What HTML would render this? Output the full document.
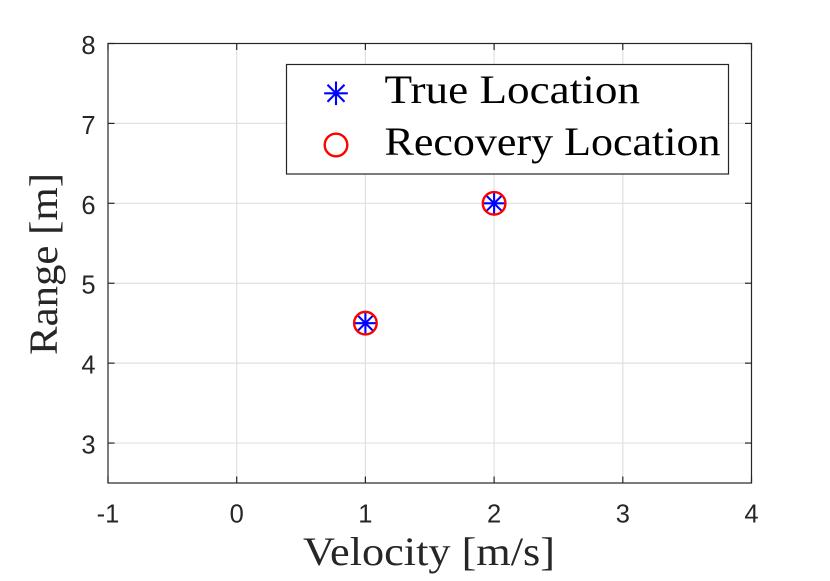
<!DOCTYPE html>
<html>
<head>
<meta charset="utf-8">
<style>
html,body{margin:0;padding:0;background:#fff;width:830px;height:581px;overflow:hidden}
svg{display:block}
.tick{font-family:"Liberation Sans",sans-serif;font-size:25.5px;fill:#262626}
.serif{font-family:"Liberation Serif",serif;font-size:40px}
</style>
</head>
<body>
<svg id="chart" width="830" height="581" viewBox="0 0 830 581" xmlns="http://www.w3.org/2000/svg"></svg>
<script>
const xTicks = [-1, 0, 1, 2, 3, 4];
const yTicks = [3, 4, 5, 6, 7, 8];
const velocityTrue = [1, 2];
const rangeTrue = [4.5, 6];
const velocityRecovered = [1, 2];
const rangeRecovered = [4.5, 6];
const xDomain = [-1, 4];
const yDomain = [2.5, 8];

const svg = document.getElementById('chart');
const NS = 'http://www.w3.org/2000/svg';
const plotLeft = 108, plotRight = 751.5, plotTop = 43.5, plotBottom = 483;
function sx(v) { return plotLeft + (v - xDomain[0]) / (xDomain[1] - xDomain[0]) * (plotRight - plotLeft); }
function sy(v) { return plotBottom - (v - yDomain[0]) / (yDomain[1] - yDomain[0]) * (plotBottom - plotTop); }
function make(tag, attrs, parent) {
  const el = document.createElementNS(NS, tag);
  for (const k in attrs) el.setAttribute(k, attrs[k]);
  (parent || svg).appendChild(el);
  return el;
}
function star(cx, cy, parent) {
  const r = 11.8, d = r * 0.72;
  const segs = [[0, -r, 0, r], [-r, 0, r, 0], [-d, -d, d, d], [-d, d, d, -d]];
  const g = make('g', {stroke: '#0000ff', 'stroke-width': 2.1, fill: 'none'}, parent);
  
  
  segs.forEach(function (s) {
    make('line', {x1: cx + s[0], y1: cy + s[1], x2: cx + s[2], y2: cy + s[3]}, g);
  });
}
function ring(cx, cy, parent) {
  const c = make('circle', {cx: cx, cy: cy, r: 11.3, fill: 'none', stroke: '#ff0000', 'stroke-width': 2.4}, parent);
  
  
}

const gridG = make('g', {stroke: '#e0e0e0', 'stroke-width': 1.2});


xTicks.slice(1, -1).forEach(function (t) {
  make('line', {x1: sx(t), y1: plotTop, x2: sx(t), y2: plotBottom}, gridG);
});
yTicks.slice(0, -1).forEach(function (t) {
  make('line', {x1: plotLeft, y1: sy(t), x2: plotRight, y2: sy(t)}, gridG);
});

const axisG = make('g', {stroke: '#262626', 'stroke-width': 1.2, fill: 'none'});


make('rect', {x: plotLeft, y: plotTop, width: plotRight - plotLeft, height: plotBottom - plotTop}, axisG);
xTicks.forEach(function (t) {
  make('line', {x1: sx(t), y1: plotBottom, x2: sx(t), y2: plotBottom - 6.5}, axisG);
  make('line', {x1: sx(t), y1: plotTop, x2: sx(t), y2: plotTop + 6.5}, axisG);
});
yTicks.forEach(function (t) {
  make('line', {x1: plotLeft, y1: sy(t), x2: plotLeft + 6.5, y2: sy(t)}, axisG);
  make('line', {x1: plotRight, y1: sy(t), x2: plotRight - 6.5, y2: sy(t)}, axisG);
});

xTicks.forEach(function (t) {
  const el = make('text', {x: sx(t), y: 522.5, 'text-anchor': 'middle', class: 'tick'});
  
  
  el.textContent = t;
});
yTicks.forEach(function (t) {
  const el = make('text', {x: 95.5, y: sy(t) + 10.5, 'text-anchor': 'end', class: 'tick'});
  
  
  el.textContent = t;
});

velocityTrue.forEach(function (v, i) { star(sx(v), sy(rangeTrue[i])); });
velocityRecovered.forEach(function (v, i) { ring(sx(v), sy(rangeRecovered[i])); });

const xTitle = make('text', {x: 303, y: 565, class: 'serif', fill: '#262626', textLength: 252, lengthAdjust: 'spacingAndGlyphs'});


xTitle.textContent = 'Velocity [m/s]';

const yTitle = make('text', {x: 0, y: 0, class: 'serif', fill: '#262626', textLength: 182, lengthAdjust: 'spacingAndGlyphs', transform: 'translate(57,355) rotate(-90)'});


yTitle.textContent = 'Range [m]';

const legend = make('g', {});


const legendBox = make('rect', {x: 286.5, y: 64.5, width: 442, height: 109.5, fill: '#fff', stroke: '#262626', 'stroke-width': 1.2}, legend);


star(336, 93.3, legend);
ring(336, 145, legend);
const l1 = make('text', {x: 384.5, y: 103, class: 'serif', fill: '#000', textLength: 255.5, lengthAdjust: 'spacingAndGlyphs'}, legend);


l1.textContent = 'True Location';
const l2 = make('text', {x: 384.5, y: 155, class: 'serif', fill: '#000', textLength: 336, lengthAdjust: 'spacingAndGlyphs'}, legend);


l2.textContent = 'Recovery Location';
</script>
</body>
</html>
